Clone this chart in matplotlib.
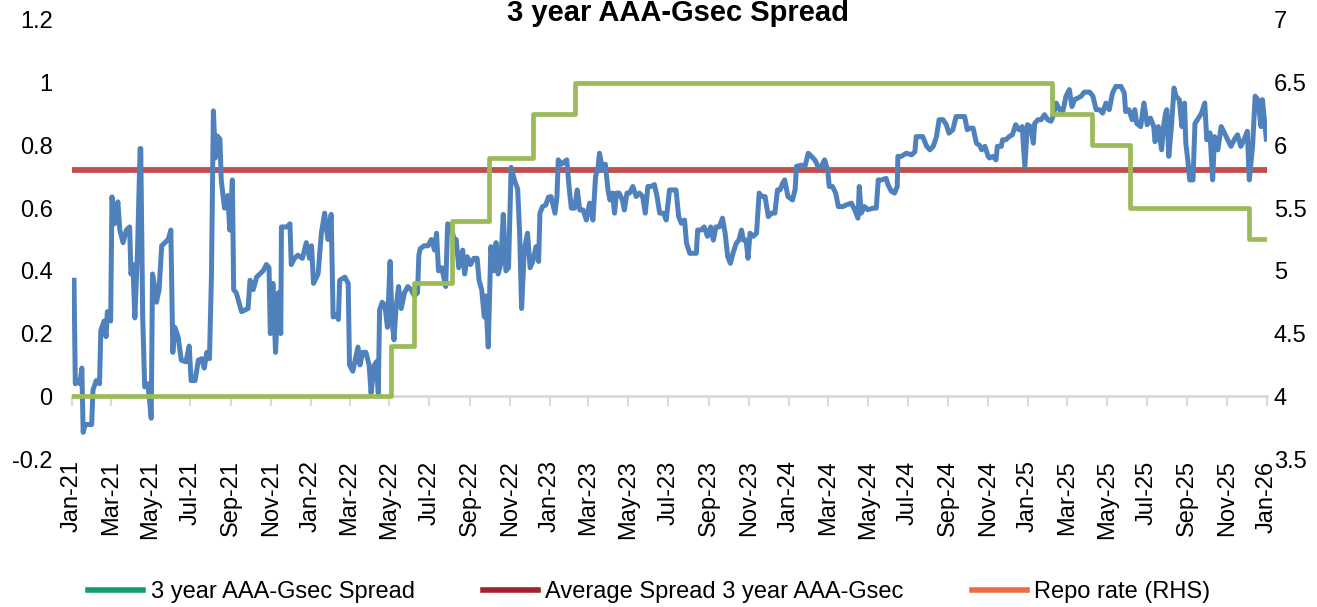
import matplotlib
matplotlib.use("Agg")
import matplotlib.pyplot as plt
from matplotlib.lines import Line2D
import pandas as pd

plt.rcParams['font.family'] = ['Liberation Sans', 'DejaVu Sans']

# 3 year AAA-Gsec spread
spread_dates = [
    "2021-01-04", "2021-01-06", "2021-01-08", "2021-01-13", "2021-01-16", "2021-01-18", "2021-01-21", "2021-01-31",
    "2021-02-02", "2021-02-07", "2021-02-12", "2021-02-14", "2021-02-19", "2021-02-22", "2021-02-24", "2021-03-01",
    "2021-03-03", "2021-03-07", "2021-03-12", "2021-03-15", "2021-03-20", "2021-03-25", "2021-03-30", "2021-04-01",
    "2021-04-04", "2021-04-07", "2021-04-11", "2021-04-15", "2021-04-16", "2021-04-19", "2021-04-22", "2021-04-27",
    "2021-05-02", "2021-05-04", "2021-05-08", "2021-05-10", "2021-05-14", "2021-05-18", "2021-05-23", "2021-05-28",
    "2021-06-01", "2021-06-04", "2021-06-07", "2021-06-12", "2021-06-17", "2021-06-24", "2021-06-29", "2021-07-02",
    "2021-07-08", "2021-07-13", "2021-07-18", "2021-07-22", "2021-07-26", "2021-07-30", "2021-08-02", "2021-08-05",
    "2021-08-08", "2021-08-11", "2021-08-15", "2021-08-17", "2021-08-22", "2021-08-27", "2021-08-30", "2021-09-03",
    "2021-09-05", "2021-09-09", "2021-09-17", "2021-09-27", "2021-09-30", "2021-10-05", "2021-10-10", "2021-10-15",
    "2021-10-20", "2021-10-25", "2021-10-29", "2021-10-31", "2021-11-04", "2021-11-08", "2021-11-12", "2021-11-16",
    "2021-11-17", "2021-11-25", "2021-11-30", "2021-12-02", "2021-12-07", "2021-12-12", "2021-12-19", "2021-12-25",
    "2021-12-30",
    "2022-01-02", "2022-01-05", "2022-01-12", "2022-01-17", "2022-01-22", "2022-01-27", "2022-02-01", "2022-02-04",
    "2022-02-09", "2022-02-12", "2022-02-14", "2022-02-22", "2022-02-27", "2022-03-01", "2022-03-06", "2022-03-08",
    "2022-03-14", "2022-03-17", "2022-03-21", "2022-03-26", "2022-03-31", "2022-04-03", "2022-04-05", "2022-04-08",
    "2022-04-11", "2022-04-14", "2022-04-16", "2022-04-20", "2022-04-24", "2022-04-28", "2022-05-02", "2022-05-05",
    "2022-05-08", "2022-05-11", "2022-05-15", "2022-05-19", "2022-05-24", "2022-05-29", "2022-06-03", "2022-06-08",
    "2022-06-13", "2022-06-15", "2022-06-17", "2022-06-23", "2022-06-29", "2022-07-04", "2022-07-09", "2022-07-12",
    "2022-07-15", "2022-07-20", "2022-07-26", "2022-07-29", "2022-08-03", "2022-08-08", "2022-08-11", "2022-08-15",
    "2022-08-21", "2022-08-24", "2022-08-28", "2022-09-02", "2022-09-07", "2022-09-12", "2022-09-15", "2022-09-19",
    "2022-09-23", "2022-09-25", "2022-09-29", "2022-10-03", "2022-10-07", "2022-10-11", "2022-10-14", "2022-10-18",
    "2022-10-22", "2022-10-26", "2022-10-30", "2022-11-03", "2022-11-08", "2022-11-13", "2022-11-16", "2022-11-19",
    "2022-11-23", "2022-11-28", "2022-12-02", "2022-12-06", "2022-12-11", "2022-12-15", "2022-12-17", "2022-12-21",
    "2022-12-26", "2022-12-30",
    "2023-01-03", "2023-01-09", "2023-01-12", "2023-01-14", "2023-01-19", "2023-01-27", "2023-01-31", "2023-02-03",
    "2023-02-08", "2023-02-12", "2023-02-16", "2023-02-21", "2023-02-26", "2023-03-03", "2023-03-08", "2023-03-12",
    "2023-03-16", "2023-03-18", "2023-03-23", "2023-03-27", "2023-03-31", "2023-04-03", "2023-04-07", "2023-04-10",
    "2023-04-13", "2023-04-17", "2023-04-22", "2023-04-25", "2023-04-29", "2023-05-03", "2023-05-08", "2023-05-13",
    "2023-05-18", "2023-05-23", "2023-05-27", "2023-05-31", "2023-06-05", "2023-06-10", "2023-06-14", "2023-06-18",
    "2023-06-24", "2023-06-28", "2023-07-03", "2023-07-08", "2023-07-13", "2023-07-17", "2023-07-21", "2023-07-26",
    "2023-07-29", "2023-08-03", "2023-08-08", "2023-08-13", "2023-08-15", "2023-08-20", "2023-08-25", "2023-08-30",
    "2023-09-04", "2023-09-08", "2023-09-12", "2023-09-17", "2023-09-22", "2023-09-26", "2023-09-30", "2023-10-04",
    "2023-10-08", "2023-10-13", "2023-10-17", "2023-10-21", "2023-10-24", "2023-10-28", "2023-10-31", "2023-11-03",
    "2023-11-08", "2023-11-13", "2023-11-17", "2023-11-21", "2023-11-26", "2023-12-01", "2023-12-06", "2023-12-11",
    "2023-12-15", "2023-12-19", "2023-12-23", "2023-12-26", "2023-12-31",
    "2024-01-07", "2024-01-11", "2024-01-13", "2024-01-21", "2024-01-26", "2024-01-31", "2024-02-05", "2024-02-10",
    "2024-02-15", "2024-02-20", "2024-02-25", "2024-03-01", "2024-03-03", "2024-03-08", "2024-03-13", "2024-03-17",
    "2024-03-24", "2024-03-29", "2024-04-06", "2024-04-11", "2024-04-16", "2024-04-18", "2024-04-21", "2024-04-26",
    "2024-05-01", "2024-05-09", "2024-05-14", "2024-05-17", "2024-05-22", "2024-05-29", "2024-06-01", "2024-06-06",
    "2024-06-11", "2024-06-15", "2024-06-16", "2024-06-21", "2024-06-29", "2024-07-07", "2024-07-12", "2024-07-14",
    "2024-07-19", "2024-07-24", "2024-07-30", "2024-08-04", "2024-08-09", "2024-08-14", "2024-08-18", "2024-08-24",
    "2024-08-29", "2024-09-02", "2024-09-08", "2024-09-13", "2024-09-21", "2024-09-26", "2024-09-30", "2024-10-04",
    "2024-10-09", "2024-10-14", "2024-10-19", "2024-10-22", "2024-10-27", "2024-11-01", "2024-11-03", "2024-11-08",
    "2024-11-13", "2024-11-15", "2024-11-21", "2024-11-23", "2024-11-28", "2024-12-03", "2024-12-08", "2024-12-13",
    "2024-12-18", "2024-12-23", "2024-12-27", "2024-12-31",
    "2025-01-05", "2025-01-09", "2025-01-11", "2025-01-16", "2025-01-21", "2025-01-26", "2025-01-31", "2025-02-05",
    "2025-02-08", "2025-02-13", "2025-02-18", "2025-02-23", "2025-02-28", "2025-03-05", "2025-03-09", "2025-03-13",
    "2025-03-18", "2025-03-23", "2025-03-28", "2025-04-05", "2025-04-10", "2025-04-15", "2025-04-20", "2025-04-25",
    "2025-04-30", "2025-05-05", "2025-05-10", "2025-05-15", "2025-05-23", "2025-05-28", "2025-05-30", "2025-06-04",
    "2025-06-09", "2025-06-13", "2025-06-16", "2025-06-22", "2025-06-27", "2025-07-02", "2025-07-07", "2025-07-12",
    "2025-07-14", "2025-07-19", "2025-07-24", "2025-07-27", "2025-07-30", "2025-08-01", "2025-08-04", "2025-08-08",
    "2025-08-12", "2025-08-15", "2025-08-20", "2025-08-24", "2025-08-28", "2025-08-30", "2025-09-02", "2025-09-05",
    "2025-09-10", "2025-09-13", "2025-09-18", "2025-09-23", "2025-09-28", "2025-10-01", "2025-10-06", "2025-10-10",
    "2025-10-13", "2025-10-18", "2025-10-23", "2025-10-28", "2025-11-02", "2025-11-07", "2025-11-12", "2025-11-17",
    "2025-11-22", "2025-11-27", "2025-12-02", "2025-12-05", "2025-12-10", "2025-12-14", "2025-12-18", "2025-12-23",
    "2025-12-25", "2025-12-31",
]
spread_values = [
    0.37, 0.04, 0.05, 0.04, 0.09, -0.115, -0.09, -0.09,
    0.02, 0.05, 0.04, 0.21, 0.24, 0.19, 0.27, 0.24,
    0.636, 0.55, 0.62, 0.53, 0.49, 0.53, 0.54, 0.39,
    0.42, 0.25, 0.46, 0.79, 0.79, 0.25, 0.03, 0.04,
    -0.07, 0.39, 0.34, 0.30, 0.34, 0.48, 0.49, 0.50,
    0.53, 0.14, 0.22, 0.19, 0.115, 0.11, 0.16, 0.05,
    0.05, 0.115, 0.12, 0.09, 0.14, 0.12, 0.38, 0.91,
    0.76, 0.83, 0.82, 0.69, 0.60, 0.64, 0.53, 0.69,
    0.34, 0.33, 0.27, 0.28, 0.37, 0.34, 0.38, 0.39,
    0.40, 0.42, 0.41, 0.20, 0.36, 0.14, 0.33, 0.20,
    0.54, 0.54, 0.55, 0.42, 0.44, 0.45, 0.44, 0.49,
    0.44,
    0.48, 0.36, 0.39, 0.52, 0.584, 0.50, 0.58, 0.253,
    0.26, 0.245, 0.37, 0.38, 0.36, 0.10, 0.08, 0.10,
    0.157, 0.10, 0.14, 0.14, 0.10, 0.01, 0.05, 0.10,
    0.11, 0.01, 0.275, 0.30, 0.29, 0.22, 0.43, 0.24,
    0.18, 0.28, 0.35, 0.28, 0.33, 0.35, 0.34, 0.32,
    0.33, 0.45, 0.47, 0.48, 0.48, 0.50, 0.466, 0.52,
    0.40, 0.41, 0.35, 0.55, 0.54, 0.50, 0.50, 0.41,
    0.466, 0.39, 0.445, 0.42, 0.44, 0.44, 0.37, 0.34,
    0.253, 0.32, 0.157, 0.477, 0.40, 0.49, 0.39, 0.42,
    0.58, 0.40, 0.41, 0.73, 0.69, 0.66, 0.52, 0.28,
    0.466, 0.52, 0.41, 0.43, 0.477, 0.43, 0.584, 0.605,
    0.61, 0.635,
    0.637, 0.584, 0.637, 0.754, 0.74, 0.754, 0.658, 0.60,
    0.60, 0.658, 0.594, 0.594, 0.562, 0.616, 0.562, 0.70,
    0.733, 0.775, 0.72, 0.74, 0.658, 0.626, 0.648, 0.584,
    0.648, 0.648, 0.626, 0.594, 0.648, 0.648, 0.669, 0.637,
    0.648, 0.637, 0.584, 0.669, 0.669, 0.675, 0.637, 0.584,
    0.584, 0.562, 0.658, 0.658, 0.658, 0.573, 0.552, 0.562,
    0.488, 0.456, 0.456, 0.456, 0.53, 0.53, 0.54, 0.51,
    0.54, 0.498, 0.54, 0.54, 0.568, 0.52, 0.445, 0.424,
    0.456, 0.488, 0.498, 0.53, 0.498, 0.498, 0.44, 0.52,
    0.51, 0.52, 0.648, 0.637, 0.637, 0.573, 0.584, 0.584,
    0.658, 0.658, 0.68, 0.69, 0.637,
    0.626, 0.66, 0.733, 0.737, 0.733, 0.775, 0.765, 0.754,
    0.733, 0.733, 0.754, 0.72, 0.669, 0.669, 0.648, 0.605,
    0.605, 0.61, 0.616, 0.595, 0.568, 0.669, 0.584, 0.605,
    0.595, 0.60, 0.60, 0.69, 0.69, 0.695, 0.674, 0.654,
    0.648, 0.669, 0.765, 0.765, 0.775, 0.77, 0.78, 0.828,
    0.828, 0.828, 0.797, 0.786, 0.797, 0.828, 0.882, 0.882,
    0.866, 0.839, 0.85, 0.892, 0.892, 0.892, 0.85, 0.855,
    0.855, 0.807, 0.80, 0.786, 0.797, 0.765, 0.76, 0.765,
    0.754, 0.797, 0.797, 0.818, 0.818, 0.828, 0.834, 0.866,
    0.85, 0.86, 0.733, 0.866,
    0.86, 0.807, 0.87, 0.882, 0.882, 0.898, 0.882, 0.877,
    0.892, 0.935, 0.914, 0.908, 0.957, 0.978, 0.924, 0.946,
    0.951, 0.957, 0.97, 0.97, 0.957, 0.914, 0.914, 0.903,
    0.935, 0.914, 0.967, 0.988, 0.988, 0.967, 0.908, 0.914,
    0.882, 0.914, 0.87, 0.86, 0.935, 0.866, 0.887, 0.86,
    0.812, 0.86, 0.786, 0.86, 0.903, 0.914, 0.765, 0.86,
    0.983, 0.957, 0.946, 0.86, 0.935, 0.807, 0.754, 0.69,
    0.69, 0.87, 0.886, 0.903, 0.935, 0.818, 0.84, 0.69,
    0.828, 0.786, 0.86, 0.84, 0.818, 0.797, 0.818, 0.834,
    0.797, 0.818, 0.845, 0.69, 0.797, 0.957, 0.946, 0.86,
    0.946, 0.82,
]

avg_spread = 0.72

# RBI repo rate (RHS), step changes
repo_dates = ["2021-01-01", "2022-05-04", "2022-06-08", "2022-08-05", "2022-09-30", "2022-12-07",
              "2023-02-08", "2025-02-07", "2025-04-09", "2025-06-06", "2025-12-05", "2025-12-31"]
repo_rates = [4.0, 4.4, 4.9, 5.4, 5.9, 6.25, 6.5, 6.25, 6.0, 5.5, 5.25, 5.25]

left_ticks = [-0.2, 0, 0.2, 0.4, 0.6, 0.8, 1, 1.2]
left_labels = ["-0.2", "0", "0.2", "0.4", "0.6", "0.8", "1", "1.2"]
right_ticks = [3.5, 4, 4.5, 5, 5.5, 6, 6.5, 7]
right_labels = ["3.5", "4", "4.5", "5", "5.5", "6", "6.5", "7"]

legend_labels = ["3 year AAA-Gsec Spread", "Average Spread 3 year AAA-Gsec", "Repo rate (RHS)"]
legend_colors = ["#0E9F6A", "#A3202E", "#EE6A3F"]

x_start = pd.Timestamp("2021-01-01")
x_end = pd.Timestamp("2026-01-01")

fig = plt.figure(figsize=(13.17, 6.07), dpi=100)
ax = fig.add_axes([0.0547, 0.2438, 0.9073, 0.7233])
ax2 = ax.twinx()

sd = pd.to_datetime(spread_dates)
ax.hlines(avg_spread, x_start, x_end, color="#C0504D", lw=4.2, zorder=2)
ax.plot(sd, spread_values, color="#4F81BD", lw=3.6, zorder=3, solid_joinstyle="round")
ax2.plot(pd.to_datetime(repo_dates), repo_rates, color="#9BBB59", lw=3.4, drawstyle="steps-post")

ax.set_xlim(x_start, x_end)
ax.set_ylim(-0.2, 1.2)
ax2.set_ylim(3.5, 7)
ax.set_yticks(left_ticks, left_labels)
ax2.set_yticks(right_ticks, right_labels)

for a in (ax, ax2):
    for s in ("top", "left", "right"):
        a.spines[s].set_visible(False)
    a.tick_params(axis="y", length=0, labelsize=17, pad=14)
ax2.spines["bottom"].set_visible(False)
ax2.tick_params(axis="y", pad=5)

# x axis line sits at zero, labels at the bottom
month_ticks = pd.date_range("2021-01-01", "2026-01-01", freq="2MS")
ax.spines["bottom"].set_position(("data", 0))
ax.spines["bottom"].set_color("#D9D9D9")
ax.spines["bottom"].set_linewidth(2)
ax.set_xticks(month_ticks)
ax.tick_params(axis="x", length=7, width=1.5, color="#D9D9D9", labelbottom=False)

sec = ax.secondary_xaxis(0)
sec.set_xticks(month_ticks, [d.strftime("%b-%y") for d in month_ticks])
sec.tick_params(axis="x", length=0, labelsize=17, rotation=90, pad=1)
sec.spines["bottom"].set_visible(False)

fig.text(0.515, 1 - 21 / 607, "3 year AAA-Gsec Spread", ha="center", va="baseline",
         fontsize=21, fontweight="bold")

handles = [Line2D([], [], color=c, lw=4) for c in legend_colors]
fig.legend(handles, legend_labels, loc="center", bbox_to_anchor=(0.493, 0.024), ncol=3,
           frameon=False, fontsize=17, handlelength=2.33, handletextpad=0.3, columnspacing=2.9)

fig.savefig("out.png", dpi=100)
